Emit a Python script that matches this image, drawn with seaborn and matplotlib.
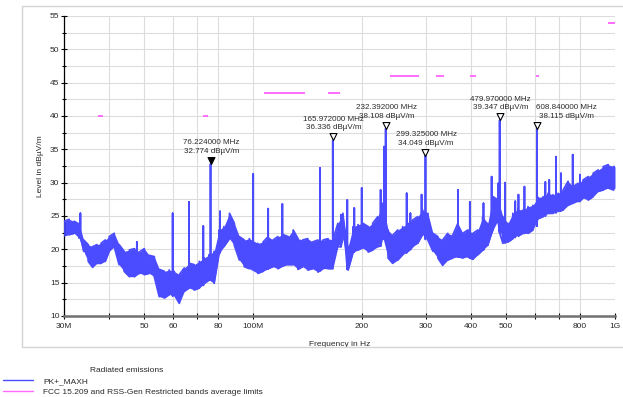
import matplotlib
matplotlib.use("Agg")
import matplotlib.pyplot as plt
import numpy as np
import pandas as pd
import seaborn as sns
from matplotlib.lines import Line2D
from matplotlib.path import Path
from matplotlib.patches import Rectangle
from matplotlib.ticker import FixedLocator, FixedFormatter, NullFormatter

# Noise floor of the peak-hold trace: frequency (MHz), lower and upper level (dBµV/m)
floor_mhz = [30, 31, 32, 33, 34, 35, 36, 37, 38, 39, 40, 41.3, 42.6, 44, 45.5, 47,
             48.5, 50, 51.6, 53.3, 55, 56.8, 58.6, 60.5, 62.5, 64.5, 66.6, 68.7, 71,
             73.3, 75.6, 78, 80.5, 83, 86, 88.7, 91.6, 94.5, 97.6, 103, 106.5, 110,
             113.5, 117, 121, 125, 129, 133, 137, 141.5, 146, 151, 156, 161, 166,
             171.5, 177, 183, 189, 195, 201, 208, 214, 221, 228, 236, 243, 251, 259,
             268, 276, 285, 294, 304, 314, 324, 334, 345, 356, 368, 380, 392, 405,
             418, 431, 445, 460, 475, 490, 506, 522, 539, 557, 575, 593, 613, 633,
             653, 674, 696, 719, 742, 766, 791, 816, 843, 870, 899, 928, 958, 990, 1000]
floor_lo = [22.0, 22.2, 22.4, 21.7, 19.7, 18.2, 17.3, 17.9, 17.9, 18.2, 19.7, 20.4,
            17.7, 16.7, 15.9, 15.9, 16.4, 16.2, 16.4, 15.9, 12.9, 12.7, 13.2, 13.2,
            11.9, 13.7, 14.2, 13.9, 14.2, 14.9, 15.4, 14.9, 19.4, 20.4, 21.6, 20.6,
            18.4, 17.4, 17.1, 16.4, 16.7, 17.1, 17.4, 17.1, 17.5, 17.7, 17.7, 17.0,
            17.4, 16.9, 17.1, 16.6, 17.1, 17.1, 17.1, 20.4, 21.6, 16.9, 19.6, 19.9,
            20.2, 19.6, 19.9, 20.4, 21.9, 18.7, 17.9, 18.4, 19.2, 19.7, 20.4, 20.9,
            22.2, 21.4, 19.7, 18.7, 17.6, 18.4, 18.7, 18.9, 18.7, 18.9, 18.5, 19.2,
            19.9, 20.6, 22.9, 24.4, 20.9, 21.1, 21.6, 22.2, 22.4, 22.4, 22.9, 24.6,
            24.9, 25.4, 25.4, 25.7, 25.9, 26.6, 26.9, 27.2, 27.7, 27.4, 27.9, 28.7,
            28.9, 29.2, 28.9, 29.2]
floor_hi = [24.2, 24.5, 24.2, 23.8, 21.4, 20.7, 20.4, 20.7, 20.9, 21.4, 21.9, 22.4,
            20.7, 19.7, 19.9, 20.1, 19.6, 20.1, 19.1, 18.9, 17.0, 16.7, 16.9, 16.7,
            16.2, 17.2, 17.9, 17.7, 18.2, 18.7, 19.2, 19.7, 22.9, 23.4, 25.4, 23.9,
            21.9, 21.4, 21.6, 20.9, 21.1, 21.9, 21.4, 21.9, 22.2, 21.9, 22.9, 21.6,
            21.4, 21.6, 21.1, 21.4, 21.4, 21.6, 21.4, 23.9, 25.4, 20.4, 23.4, 23.7,
            23.9, 23.4, 23.9, 24.9, 26.9, 22.9, 22.1, 22.9, 23.4, 23.9, 24.4, 24.9,
            25.9, 25.4, 22.4, 21.9, 21.4, 22.4, 22.1, 23.9, 22.4, 22.9, 22.4, 22.9,
            24.9, 23.9, 27.9, 27.4, 24.9, 23.9, 25.4, 26.0, 25.9, 26.4, 26.6, 27.8,
            27.9, 28.4, 28.2, 28.4, 28.9, 30.2, 29.4, 29.9, 30.4, 30.9, 31.4, 31.9,
            32.4, 32.7, 32.4, 32.4]

# Narrowband emissions above the floor: frequency (MHz), floor level, peak level
spike_mhz = [33.3, 47.7, 59.9, 66.5, 72.8, 81.0, 100.0, 110.0, 120.4, 153.1, 174.8,
             182.0, 190.3, 199.5, 225.0, 230.0, 265.6, 272.0, 292.0, 368.0, 397.0,
             433.0, 456.0, 476.0, 497.0, 530.0, 541.0, 562.0, 642.0, 658.0, 687.0,
             709.0, 764.0, 800.0]
spike_base = [22.0, 16.5, 13.0, 14.2, 14.6, 19.5, 17.0, 17.1, 17.5, 16.8, 20.4,
              17.0, 19.6, 20.2, 20.5, 21.5, 19.5, 20.0, 22.0, 18.9, 18.7, 19.9,
              22.5, 24.0, 21.0, 21.8, 22.0, 22.4, 25.0, 25.4, 25.5, 25.8, 27.0, 27.2]
spike_peak = [25.4, 21.1, 25.4, 27.1, 23.5, 25.7, 31.3, 26.1, 26.8, 32.2, 25.2,
              27.4, 26.2, 29.2, 28.9, 35.4, 28.4, 25.4, 28.2, 28.9, 27.1, 26.9,
              30.9, 29.9, 30.0, 27.2, 28.2, 29.4, 30.1, 30.4, 33.9, 31.4, 34.2, 31.2]

# Marked peaks
marker_mhz = [76.224, 165.972, 232.392, 299.325, 479.970, 608.840]
marker_level = [32.774, 36.336, 38.108, 34.049, 39.347, 38.115]
marker_base = [15.4, 17.1, 21.5, 21.5, 22.5, 23.5]

# Restricted bands and their average limits
band_start_mhz = [37.5, 73.0, 74.8, 108.0, 123.0, 149.9, 156.52475, 156.7, 162.0125,
                  167.72, 240.0, 322.0, 399.9, 608.0, 960.0]
band_stop_mhz = [38.25, 74.6, 75.2, 121.94, 138.0, 150.05, 156.52525, 156.9, 167.17,
                 173.2, 285.0, 335.4, 410.0, 614.0, 1240.0]
band_limit = [40, 40, 40, 43.5, 43.5, 43.5, 43.5, 43.5, 43.5, 43.5, 46, 46, 46, 46, 54]

x_major_mhz = [30, 50, 60, 80, 100, 200, 300, 400, 500, 800, 1000]
x_major_labels = ["30M", "50", "60", "80", "100M", "200", "300", "400", "500", "800", "1G"]
x_minor_mhz = [40, 70, 600, 700]
y_major = [10, 15, 20, 25, 30, 35, 40, 45, 50, 55]
y_minor = [12.5, 17.5, 22.5, 27.5, 32.5, 37.5, 42.5, 47.5, 52.5]

TRACE = "#4b4bff"
LIMIT = "#ff6cff"
TEXT = "#2a2a2a"

sns.set_theme(style="white")
plt.rcParams["font.family"] = ["Liberation Sans", "DejaVu Sans"]

# Assemble the trace in frequency order: floor columns plus narrow spikes
rows = []
for i, (f, lo, hi) in enumerate(zip(floor_mhz, floor_lo, floor_hi)):
    rows.append((f, (lo, hi) if i % 2 == 0 else (hi, lo)))
for f, b, p in zip(spike_mhz + marker_mhz, spike_base + marker_base,
                   spike_peak + marker_level):
    rows.append((f, (b, p, b)))
rows.sort(key=lambda r: r[0])
freq_hz, level = [], []
for f, levels in rows:
    for v in levels:
        freq_hz.append(f * 1e6)
        level.append(v)
trace = pd.DataFrame({"Frequency": freq_hz, "Level": level})

fig = plt.figure(figsize=(6.23, 3.97), dpi=100)
fig.patch.set_facecolor("white")
ax = fig.add_axes([64 / 623, 1 - 316 / 397, 551 / 623, 300 / 397])
ax.set_xscale("log")

ax.fill_between(np.array(floor_mhz) * 1e6, floor_lo, floor_hi,
                color=TRACE, lw=0, zorder=2)
sns.lineplot(data=trace, x="Frequency", y="Level", sort=False, estimator=None,
             color=TRACE, lw=1.3, ax=ax, zorder=3)

lc = ax.hlines(band_limit, np.array(band_start_mhz) * 1e6,
               np.array(band_stop_mhz) * 1e6, colors=LIMIT, lw=1.4, zorder=4)
lc.set_capstyle("projecting")

# Peak markers: tip of the triangle sits on the peak
tri = Path([(0, 0), (-1, 2), (1, 2), (0, 0)],
           [Path.MOVETO, Path.LINETO, Path.LINETO, Path.CLOSEPOLY])
for i, (f, v) in enumerate(zip(marker_mhz, marker_level)):
    ax.plot([f * 1e6], [v], marker=tri, ms=10, mec="black", mew=0.8,
            mfc="black" if i == 0 else "white", ls="none", zorder=6)
    dx = 21 if i == len(marker_mhz) - 1 else 0.5
    ax.annotate(f"{f:.6f} MHz\n{v:.3f} dBµV/m", xy=(f * 1e6, v),
                xytext=(dx, 6.5), textcoords="offset points", ha="center",
                va="bottom", fontsize=5.8, color=TEXT, linespacing=1.35, zorder=7)

ax.set_xlim(30e6, 1e9)
ax.set_ylim(10, 55)
ax.xaxis.set_major_locator(FixedLocator([m * 1e6 for m in x_major_mhz]))
ax.xaxis.set_major_formatter(FixedFormatter(x_major_labels))
ax.xaxis.set_minor_locator(FixedLocator([m * 1e6 for m in x_minor_mhz]))
ax.xaxis.set_minor_formatter(NullFormatter())
ax.set_yticks(y_major)
ax.set_yticks(y_minor, minor=True)

ax.grid(which="both", color="#dcdcdc", lw=0.8)
ax.set_axisbelow(True)
for side in ("top", "right"):
    ax.spines[side].set_visible(False)
ax.spines["left"].set_color("black")
ax.spines["left"].set_linewidth(0.9)
ax.spines["bottom"].set_color("#707070")
ax.spines["bottom"].set_linewidth(1.8)
ax.tick_params(axis="y", which="major", direction="inout", length=4.5, width=0.8,
               color="black", labelsize=6, labelcolor=TEXT, pad=1, left=True)
ax.tick_params(axis="y", which="minor", direction="inout", length=3, width=0.8,
               color="black", left=True)
ax.tick_params(axis="x", which="both", direction="inout", length=4, width=0.8,
               color="black", labelsize=6, labelcolor=TEXT, pad=3, bottom=True)

ax.set_xlabel("Frequency in Hz", fontsize=6, color=TEXT, labelpad=8)
ax.set_ylabel("Level in dBµV/m", fontsize=6, color=TEXT, labelpad=4)

# Outer frame around the plot
fig.patches.append(Rectangle((22 / 623, 1 - 347 / 397), 1.0, 341 / 397,
                             transform=fig.transFigure, fill=False,
                             edgecolor="#d4d4d4", lw=1.0, zorder=0))

fig.text(127 / 623, 1 - 370 / 397, "Radiated emissions", ha="center", va="center",
         fontsize=6, color=TEXT)
handles = [Line2D([], [], color=TRACE, lw=1.0), Line2D([], [], color=LIMIT, lw=1.0)]
fig.legend(handles, ["PK+_MAXH", "FCC 15.209 and RSS-Gen Restricted bands average limits"],
           loc="upper left", bbox_to_anchor=(3 / 623, 1 - 377.5 / 397), frameon=False,
           fontsize=6, handlelength=3.6, handletextpad=1.2, labelspacing=0.35,
           borderpad=0, borderaxespad=0, labelcolor=TEXT)

fig.savefig("out.png", dpi=100, facecolor="white")
